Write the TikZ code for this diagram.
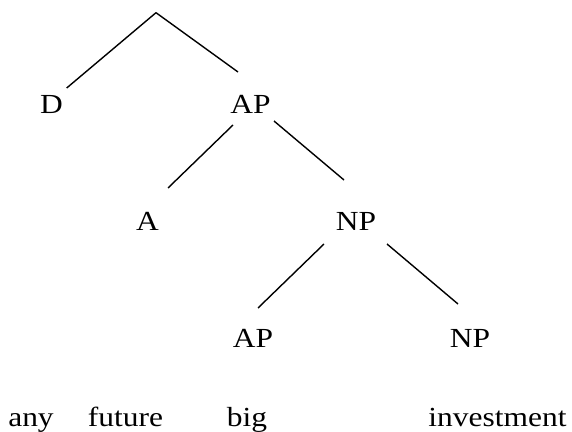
\documentclass[tikz,border=0pt]{standalone}
\usepackage{fontspec}
\setmainfont{Liberation Serif}[FakeStretch=1.14]
\usepackage{tikz}
\usetikzlibrary{positioning,calc}

\begin{document}
\begin{tikzpicture}[
x=0.5pt, y=-0.5pt,
cat/.style={inner sep=0pt, anchor=center, font=\fontsize{13.8}{16}\selectfont},
word/.style={inner sep=0pt, anchor=base, font=\fontsize{13.8}{16}\selectfont},
branch/.style={line width=0.7pt, draw=black}
]
\useasboundingbox (0,0) rectangle (572,432);

% categories
\coordinate (top) at (156,12.7);
\node[cat] (d)   at (51.5,104) {D};
\node[cat] (ap1) at (250.5,104) {AP};
\node[cat] (a)   at (147.5,221) {A};
\node[cat] (np1) at (356,221)  {NP};
\node[cat] (ap2) at (253,338)  {AP};
\node[cat] (np2) at (470,338)  {NP};

% words
\node[word] (w1) at (31,426)    {any};
\node[word] (w2) at (125.5,426) {future};
\node[word] (w3) at (247,426)   {big};
\node[word] (w4) at (497.5,426) {investment};

% branches
\draw[branch] (top) -- ([shift={(15.2,-16)}]d.center);
\draw[branch] (top) -- ([shift={(-12.5,-32)}]ap1.center);
\draw[branch] ([shift={(-17.5,21)}]ap1.center) -- ([shift={(20.5,-33)}]a.center);
\draw[branch] ([shift={(23.5,17)}]ap1.center) -- ([shift={(-12,-41)}]np1.center);
\draw[branch] ([shift={(-32,23)}]np1.center) -- ([shift={(5,-30)}]ap2.center);
\draw[branch] ([shift={(31,23)}]np1.center) -- ([shift={(-12,-34)}]np2.center);

\end{tikzpicture}
\end{document}
